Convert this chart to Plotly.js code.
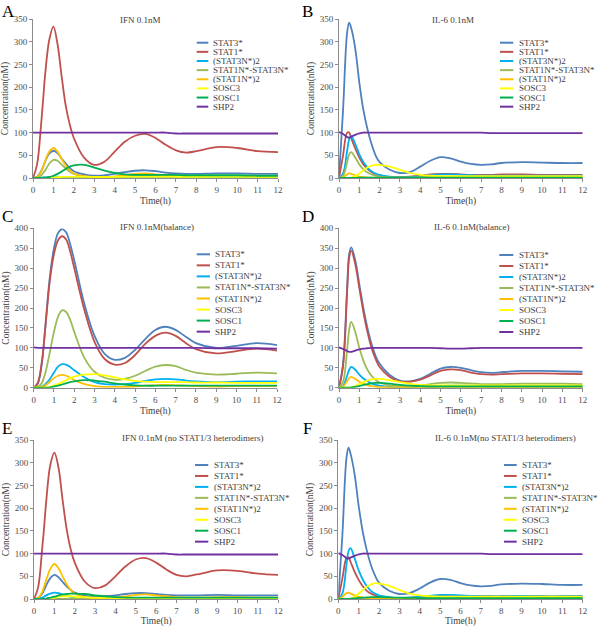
<!DOCTYPE html>
<html>
<head>
<meta charset="utf-8">
<script src="https://cdn.plot.ly/plotly-3.0.1.min.js"></script>
<style>html,body{margin:0;padding:0;background:#fff;}#chart{width:600px;height:627px;}</style>
</head>
<body>
<div id="chart"></div>
<script>
// ---------- data ----------
const t = [0,0.2,0.4,0.5,0.6,0.8,1.0,1.2,1.4,1.6,1.8,2.0,2.5,3,3.5,4,4.5,5,5.5,6,6.5,7,7.5,8,9,10,11,12];
const seriesNames = ["STAT3*","STAT1*","(STAT3N*)2","STAT1N*-STAT3N*","(STAT1N*)2","SOSC3","SOSC1","SHP2"];
const seriesColors = ["#4F81BD","#C0504D","#00B0F0","#9BBB59","#FFC000","#FFFF00","#00B050","#7030A0"];
const panelLetters = ["A","B","C","D","E","F"];
const panelTitles = ["IFN 0.1nM","IL-6 0.1nM","IFN 0.1nM(balance)","IL-6 0.1nM(balance)","IFN 0.1nM (no STAT1/3 heterodimers)","IL-6 0.1nM(no STAT1/3 heterodimers)"];
const xTitle = "Time(h)";
const yTitle = "Concentration(nM)";

// Panel A: IFN 0.1nM
const A_stat3 = [0,3,15,25,37,54,60,55,43,32,22,15,8,5,6,9,13,16,17,15,12,10,9,9,10,10,9,9];
const A_stat1 = [0,30,120,175,230,305,333,295,225,160,118,88,45,29,36,58,80,93,97,88,73,61,56,59,68,66,59,57];
const A_s3n2  = [0,0.2,1,1.5,2,2.5,3,2.8,2.4,2,1.6,1.3,0.8,0.6,0.6,0.8,1,1.2,1.3,1.2,1,1,1,1,1,1,1,1];
const A_het   = [0,1,6,11,17,32,40,38,30,21,14,9,4,2,2,3,4,5,6,5,5,4,4,4,4,4,4,4];
const A_s1n2  = [0,2,14,25,38,58,66,58,42,28,17,10,4,2,2,3,6,9,10,8,6,4,3,3,4,4,3,3];
const A_socs3 = [0,0,0,0.2,0.5,1,1.5,2,2.3,2.5,2.6,2.6,2.5,2.4,2.3,2.3,2.3,2.3,2.3,2.3,2.3,2.3,2.3,2.3,2.3,2.3,2.3,2.3];
const A_socs1 = [0,0,0,0,0.3,2,5,9,14,20,25,28,29,23,16,11,8,7,7,7,7,7,6,6,6,6,5,5];
const A_shp2  = [100,100,100,100,100,100,100,100,100,100,100,100,100,100,100,100,100,100,100,100,100,98,98,98,98,98,98,98];

// Panel B: IL-6 0.1nM
const B_stat3 = [0,150,320,342,330,285,210,150,108,75,50,35,18,11,13,25,38,46,43,36,31,29,30,33,35,34,33,33];
const B_stat1 = [0,50,100,100,88,65,45,30,20,13,8,5,2,2,3,5,8,9,9,8,7,7,7,8,8,7,7,7];
const B_s3n2  = [0,10,60,85,92,75,52,35,23,15,10,7,3,2,2,4,6,8,8,7,6,5,5,5,5,5,5,5];
const B_het   = [0,5,35,52,57,45,30,19,12,8,5,3,1,1,1,1.5,2,2,2,2,2,2,2,2,2,2,2,2];
const B_s1n2  = [0,2,8,10,9,6,3,2,1,0.5,0.5,0.5,0.5,0.5,0.5,0.5,1,1,1,1,1,1,1,1,1,1,1,1];
const B_socs3 = [0,0,0,0,1,4,10,17,23,27,29,29,25,18,11,7,5,4,4,4,4,4,4,4,4,4,4,4];
const B_socs1 = [0,0,0,0,0,0.2,0.5,0.7,0.8,0.9,1,1,1,1,1,1,1,1,1,1,1,1,1,1,1,1,1,1];
const B_shp2  = [101,97,90,89,91,95,98,100,100,100,100,100,100,100,100,100,100,100,100,100,100,100,99,99,99,99,99,99];

// Panel C: IFN 0.1nM (balance)
const C_stat3 = [0,10,60,110,170,280,350,388,398,390,360,320,210,130,85,70,75,95,122,145,153,145,128,112,100,105,112,107];
const C_stat1 = [0,12,65,110,165,270,335,370,380,372,342,300,195,115,72,58,62,82,110,130,138,130,112,97,86,92,98,93];
const C_s3n2  = [0,0.5,3,6,10,22,38,53,59,58,52,44,26,14,9,8,9,12,17,21,22,21,18,16,14,15,16,16];
const C_het   = [0,2,12,25,42,90,140,178,194,190,170,140,75,40,25,20,22,30,42,53,57,54,45,38,33,35,38,36];
const C_s1n2  = [0,0.5,2,4,7,15,24,30,32,30,25,19,9,4,2,2,2,3,5,6,7,6,5,4,3,4,4,4];
const C_socs3 = [0,0,0,0,0.5,2,5,9,14,19,24,28,33,34,31,26,21,17,15,14,14,14,14,13,13,12,12,12];
const C_socs1 = [0,0,0,0,0.2,1,3,5,8,11,14,16,19,18,15,11,8,6,5,5,5,5,5,5,5,5,5,5];
const C_shp2  = [101,100,100,100,100,100,100,100,100,100,100,100,100,100,100,100,100,100,100,100,100,100,100,100,99,99,99,98];

// Panel D: IL-6 0.1nM (balance)
const D_stat3 = [0,60,250,335,352,320,260,200,150,110,80,60,32,18,16,22,35,48,52,50,44,39,37,39,42,42,41,40];
const D_stat1 = [0,55,240,325,344,310,250,190,140,100,72,52,27,16,15,20,31,42,46,44,38,34,33,34,36,36,35,34];
const D_s3n2  = [0,5,30,45,52,45,33,23,16,11,7,5,2,1,1,2,3,4,5,5,5,4,4,4,4,4,4,4];
const D_het   = [0,15,95,145,165,140,100,68,45,30,20,13,6,4,4,6,9,12,13,12,11,9,9,9,10,10,10,9];
const D_s1n2  = [0,3,16,24,27,22,15,10,6,4,2.5,1.5,1,0.5,0.5,0.5,1,1,1,1,1,1,1,1,1,1,1,1];
const D_socs3 = [0,0,0,0.3,1,4,9,14,18,21,22,22,19,14,10,7,6,6,6,6,6,6,6,6,6,6,6,6];
const D_socs1 = [0,0,0,0.2,0.5,2,4,7,9,11,12,12,10,7,5,4,3,3,3,3,3,3,3,3,3,3,3,3];
const D_shp2  = [101,97,92,90,90,93,96,98,99,100,100,100,100,100,100,100,100,99,98,98,99,100,100,100,100,100,100,100];

// Panel E: IFN 0.1nM (no STAT1/3 heterodimers)
const E_stat3 = [0,2,12,20,30,46,53,48,38,28,20,14,7,5,6,8,11,13,13,11,9,8,8,8,9,8,8,8];
const E_stat1 = [0,25,110,160,215,295,322,290,220,155,110,80,38,24,30,50,72,87,90,80,65,53,50,54,63,62,56,53];
const E_s3n2  = [0,0.5,3,5,8,12,14,13,10,7,5,3.5,2,1,1,1,1.5,2,2,2,1.5,1,1,1,1,1,1,1];
const E_het   = [0,0,0,0,0,0,0,0,0,0,0,0,0,0,0,0,0,0,0,0,0,0,0,0,0,0,0,0];
const E_s1n2  = [0,2,15,28,42,66,77,68,50,33,20,12,4,2,2,3,6,9,10,8,6,4,3,3,4,4,3,3];
const E_socs3 = [0,0,0,0,0.3,1,3,5,6,6,6,5,4,3,2.5,2,2,2,2,2,2,2,2,2,2,2,2,2];
const E_socs1 = [0,0,0,0.3,1,3,5,8,10,11,12,12,11,8,6,4,3,3,3,3,3,3,3,3,3,3,3,3];
const E_shp2  = [100,100,100,100,100,100,100,100,100,100,100,100,100,100,100,100,100,100,100,100,100,98,98,98,98,98,98,98];

// Panel F: IL-6 0.1nM (no STAT1/3 heterodimers)
const F_stat3 = [0,140,310,333,320,275,205,148,107,75,52,36,18,11,13,23,36,44,42,35,30,28,29,32,34,33,31,31];
const F_stat1 = [0,45,90,92,82,60,42,28,18,12,8,5,2,2,3,4,6,7,7,6,6,6,6,6,7,6,6,6];
const F_s3n2  = [0,12,75,105,112,90,63,43,28,18,12,8,4,2,3,5,7,9,9,8,7,6,6,6,7,6,6,6];
const F_het   = [0,0,0,0,0,0,0,0,0,0,0,0,0,0,0,0,0,0,0,0,0,0,0,0,0,0,0,0];
const F_s1n2  = [0,5,13,14,12,8,5,3,2,1,0.5,0.5,0.3,0.3,0.3,0.3,0.5,0.5,0.5,0.5,0.5,0.5,0.5,0.5,0.5,0.5,0.5,0.5];
const F_socs3 = [0,0,0,0.3,1,5,12,20,27,32,35,34,29,20,12,8,6,5,5,5,5,5,5,5,5,5,5,5];
const F_socs1 = [0,0,0,0.2,0.5,1.5,2.5,3,3.5,4,4,4,3.5,3,2.5,2,2,2,2,2,2,2,2,2,2,2,2,2];
const F_shp2  = [101,97,90,89,91,95,98,100,100,100,100,100,100,100,100,100,100,100,100,100,100,100,99,99,99,99,99,99];

const panelData = [
  [A_stat3,A_stat1,A_s3n2,A_het,A_s1n2,A_socs3,A_socs1,A_shp2],
  [B_stat3,B_stat1,B_s3n2,B_het,B_s1n2,B_socs3,B_socs1,B_shp2],
  [C_stat3,C_stat1,C_s3n2,C_het,C_s1n2,C_socs3,C_socs1,C_shp2],
  [D_stat3,D_stat1,D_s3n2,D_het,D_s1n2,D_socs3,D_socs1,D_shp2],
  [E_stat3,E_stat1,E_s3n2,E_het,E_s1n2,E_socs3,E_socs1,E_shp2],
  [F_stat3,F_stat1,F_s3n2,F_het,F_s1n2,F_socs3,F_socs1,F_shp2]
];
const yMax = [350,350,400,400,350,350];

// ---------- layout geometry (pixels) ----------
const W = 600, H = 627;
const px = x => x / W;
const py = y => 1 - y / H;
const geom = [
  {x0:33,   x1:278,   y0:19,    y1:178,   lx0:196.7, lx1:208.3, tx:211,   ly:42.7,  dy:9.14, title:[140,20],  letter:[1,1]},
  {x0:339,  x1:582.7, y0:19,    y1:178,   lx0:500,   lx1:513.3, tx:516.7, ly:42.7,  dy:9.14, title:[453,20],  letter:[301,1]},
  {x0:33.7, x1:277,   y0:228.3, y1:387.7, lx0:196.7, lx1:210,   tx:213.3, ly:254.3, dy:11.05,title:[157,227], letter:[1,206]},
  {x0:339,  x1:582.7, y0:228.3, y1:387.7, lx0:499.3, lx1:513.3, tx:516.7, ly:255,   dy:11,   title:[471,227], letter:[301,206]},
  {x0:34,   x1:278.3, y0:440,   y1:599,   lx0:195,   lx1:208.3, tx:211.7, ly:465,   dy:10.95,title:[193,438], letter:[1,418]},
  {x0:338.3,x1:582.7, y0:440,   y1:599,   lx0:504,   lx1:516.7, tx:520,   ly:465,   dy:10.95,title:[505,438], letter:[302,418]}
];

const FONT = "Liberation Serif, Times New Roman, serif";
const traces = [];
const layout = {
  width: W, height: H,
  margin: {l:0, r:0, t:0, b:0},
  paper_bgcolor: "#ffffff", plot_bgcolor: "#ffffff",
  showlegend: false,
  font: {family: FONT, size: 9, color: "#404040"},
  annotations: [], shapes: []
};

panelData.forEach((series, p) => {
  const g = geom[p];
  const n = p === 0 ? "" : String(p + 1);
  const xa = "xaxis" + n, ya = "yaxis" + n;
  layout[xa] = {
    domain: [px(g.x0), px(g.x1)], anchor: "y" + n, range: [0, 12], dtick: 1, tick0: 0,
    showline: true, linecolor: "#8c8c8c", linewidth: 1, zeroline: false, showgrid: false,
    ticks: "outside", ticklen: 3, tickcolor: "#8c8c8c", fixedrange: true,
    tickfont: {family: FONT, size: 9, color: "#4d4d4d"},
    title: {text: xTitle, font: {family: FONT, size: 9.5, color: "#404040"}, standoff: 3}
  };
  layout[ya] = {
    domain: [py(g.y1), py(g.y0)], anchor: "x" + n, range: [0, yMax[p]], dtick: 50, tick0: 0,
    showline: true, linecolor: "#8c8c8c", linewidth: 1, zeroline: false, showgrid: false,
    ticks: "outside", ticklen: 3, tickcolor: "#8c8c8c", fixedrange: true,
    tickfont: {family: FONT, size: 9, color: "#4d4d4d"},
    title: {text: yTitle, font: {family: FONT, size: 9.5, color: "#404040"}, standoff: 3}
  };
  series.forEach((vals, s) => {
    traces.push({
      type: "scatter", mode: "lines", x: t, y: vals, name: seriesNames[s],
      xaxis: "x" + n, yaxis: "y" + n, cliponaxis: true,
      line: {color: seriesColors[s], width: 1.8, shape: "spline", smoothing: 1},
      hoverinfo: "skip"
    });
    const yy = g.ly + s * g.dy;
    layout.shapes.push({type: "line", xref: "paper", yref: "paper",
      x0: px(g.lx0), x1: px(g.lx1), y0: py(yy), y1: py(yy),
      line: {color: seriesColors[s], width: 2}});
    layout.annotations.push({xref: "paper", yref: "paper", x: px(g.tx), y: py(yy),
      xanchor: "left", yanchor: "middle", showarrow: false, text: seriesNames[s],
      font: {family: FONT, size: 9, color: "#404040"}});
  });
  layout.annotations.push({xref: "paper", yref: "paper", x: px(g.title[0]), y: py(g.title[1]),
    xanchor: "center", yanchor: "middle", showarrow: false, text: panelTitles[p],
    font: {family: FONT, size: 9, color: "#404040"}});
  layout.annotations.push({xref: "paper", yref: "paper", x: px(g.letter[0]), y: py(g.letter[1]),
    xanchor: "left", yanchor: "top", showarrow: false, borderpad: 0, text: panelLetters[p],
    font: {family: FONT, size: 17, color: "#000000"}});
});

Plotly.newPlot("chart", traces, layout, {staticPlot: true, displayModeBar: false});
</script>
</body>
</html>
